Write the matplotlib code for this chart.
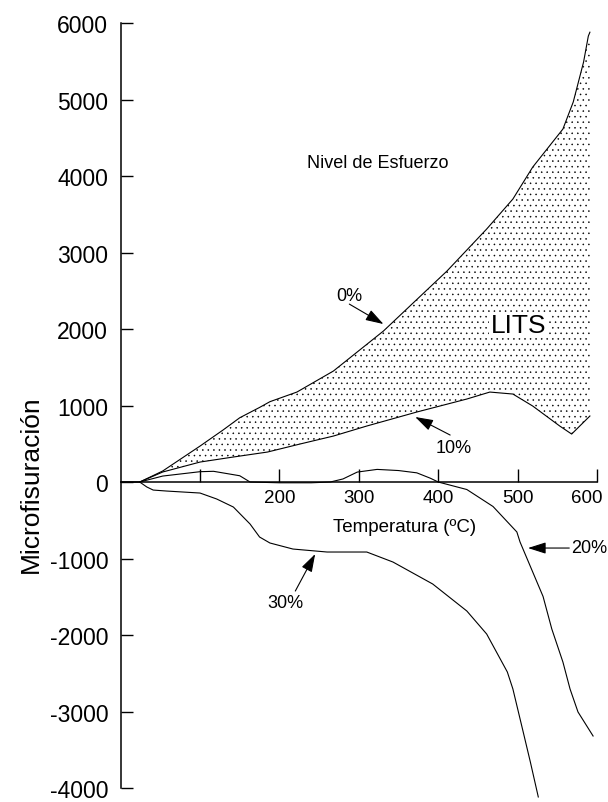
import matplotlib

matplotlib.use("Agg")
import matplotlib.pyplot as plt
from matplotlib.patches import Polygon
from matplotlib.transforms import ScaledTranslation

plt.rcParams["font.family"] = ["Liberation Sans", "DejaVu Sans"]
plt.rcParams["hatch.linewidth"] = 0.35

# Temperature (ºC) vs microcracking
upper_x = [24, 53, 100, 129, 150, 175, 188, 222, 268, 331, 411, 461, 494, 519, 557, 570, 583, 589, 591]
upper_y = [0, 144, 470, 680, 840, 975, 1050, 1176, 1451, 1974, 2758, 3307, 3699, 4117, 4614, 4967, 5489, 5829, 5880]

lower_x = [24, 53, 100, 142, 185, 226, 268, 310, 373, 436, 465, 494, 519, 553, 568, 591]
lower_y = [0, 131, 261, 327, 392, 497, 601, 732, 915, 1085, 1176, 1150, 993, 732, 627, 863]

twenty_x = [0, 24, 53, 100, 117, 150, 163, 200, 240, 264, 280, 298, 323, 350, 373, 390, 400,
            436, 469, 499, 503, 532, 543, 557, 566, 576, 595]
twenty_y = [0, 0, 78, 135, 140, 82, 0, -10, -10, 0, 40, 130, 165, 150, 120, 50, 0,
            -98, -320, -653, -784, -1496, -1921, -2353, -2706, -3006, -3320]

thirty_x = [0, 24, 33, 41, 58, 100, 121, 142, 163, 175, 188, 217, 260, 310, 343, 393, 436,
            461, 487, 494, 507, 516, 526]
thirty_y = [0, 0, -65, -105, -118, -144, -222, -327, -549, -719, -797, -876, -915, -915, -1046,
            -1333, -1686, -1987, -2483, -2705, -3268, -3660, -4117]

x_ticks = [100, 200, 300, 400, 500, 600]
x_tick_labels = ["", "200", "300", "400", "500", "600"]
y_ticks = [-4000, -3000, -2000, -1000, 0, 1000, 2000, 3000, 4000, 5000, 6000]
y_tick_labels = [str(v) for v in y_ticks]

# (label, text position, arrow tail, arrow tip)
curve_labels = [
    ("0%", (288, 2444), (288, 2326), (331, 2065)),
    ("10%", (420, 457), (415, 614), (371, 850)),
    ("20%", (590, -850), (565, -863), (513, -863)),
    ("30%", (207, -1581), (220, -1425), (245, -941)),
]

fig = plt.figure(figsize=(6.08, 8.03), dpi=100)
ax = fig.add_axes([0.1984, 0.0174, 0.7836, 0.9527])
ax.set_xlim(0, 600)
ax.set_ylim(-4000, 6000)

# stippled LITS band between the 0% and 10% curves
band = list(zip(upper_x, upper_y)) + list(zip(lower_x[::-1], lower_y[::-1]))
ax.add_patch(Polygon(band, closed=True, facecolor="none", edgecolor="black",
                     linewidth=0, hatch="...", zorder=1))

ax.plot(upper_x, upper_y, color="black", lw=0.8, zorder=2)
ax.plot(lower_x, lower_y, color="black", lw=0.8, zorder=2)
ax.plot(twenty_x, twenty_y, color="black", lw=0.8, zorder=2)
ax.plot(thirty_x, thirty_y, color="black", lw=0.8, zorder=2, clip_on=False)

for spine in ("top", "right"):
    ax.spines[spine].set_visible(False)
ax.spines["bottom"].set_position(("data", 0))
ax.spines["bottom"].set_bounds(0, 600)
ax.spines["left"].set_linewidth(1.1)
ax.spines["bottom"].set_linewidth(1.1)

ax.set_xticks(x_ticks)
ax.set_xticklabels(x_tick_labels)
ax.set_yticks(y_ticks)
ax.set_yticklabels(y_tick_labels)
ax.tick_params(axis="x", direction="in", length=9.5, width=1.0, pad=5, labelsize=13.5)
ax.tick_params(axis="y", direction="in", length=8.5, width=1.0, pad=9, labelsize=16.5)

# the last x label sits a little left of its tick in the original
last_label = ax.get_xticklabels()[-1]
last_label.set_transform(last_label.get_transform() + ScaledTranslation(-10 / 100, 0, fig.dpi_scale_trans))

for label, text_pos, tail, tip in curve_labels:
    ax.text(*text_pos, label, fontsize=13, ha="center", va="center")
    ax.annotate("", xy=tip, xytext=tail,
                arrowprops=dict(arrowstyle="-|>,head_length=1.1,head_width=0.35",
                                mutation_scale=10, lw=0.8, color="black",
                                shrinkA=0, shrinkB=0),
                annotation_clip=False)

ax.text(324, 4182, "Nivel de Esfuerzo", fontsize=13, ha="center", va="center")
ax.text(358, -575, "Temperatura (ºC)", fontsize=13.5, ha="center", va="center")
ax.text(501, 2052, "LITS", fontsize=19, ha="center", va="center",
        bbox=dict(facecolor="white", edgecolor="none", pad=1))
fig.text(31 / 608, 1 - 484 / 803, "Microfisuración", fontsize=19, rotation=90,
         ha="center", va="center")

fig.savefig("out.png", dpi=100)
